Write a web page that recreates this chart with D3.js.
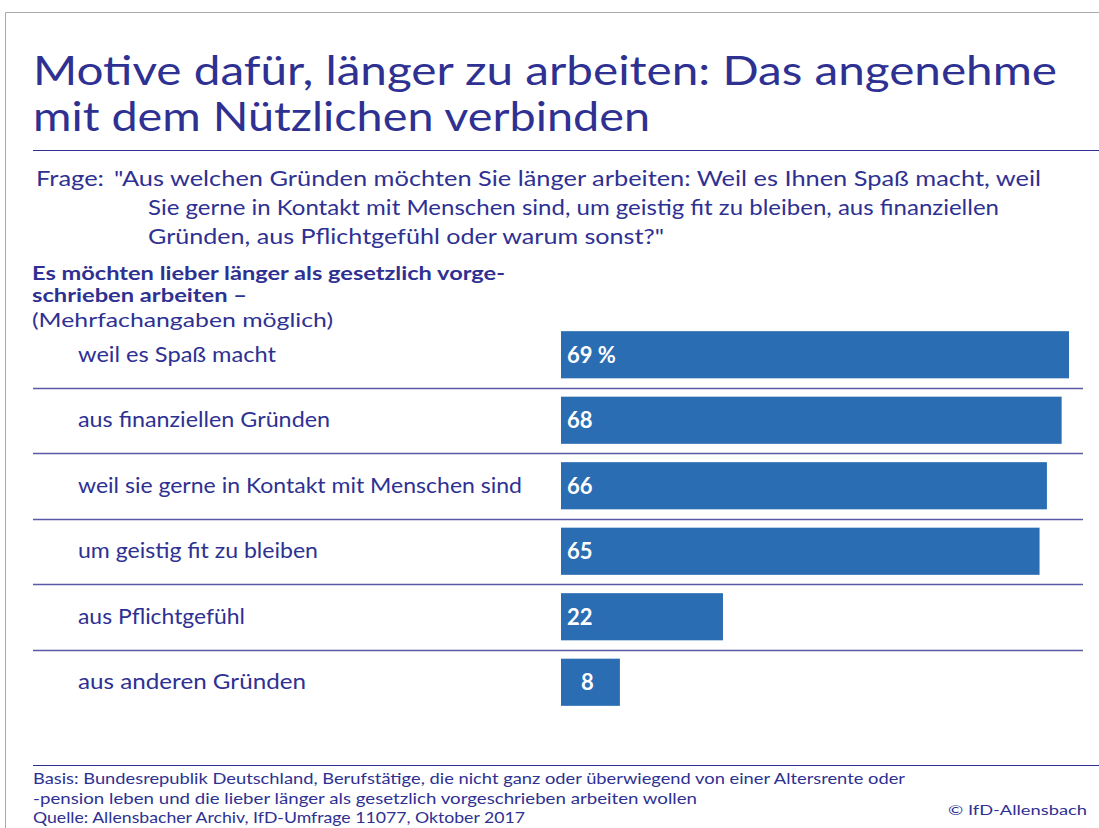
<!DOCTYPE html>
<html>
<head>
<meta charset="utf-8">
<script src="https://cdn.jsdelivr.net/npm/d3@7"></script>
<style>
  body { margin: 0; background: #fff; }
  svg text { font-family: Lato, "Noto Sans", sans-serif; }
</style>
</head>
<body>
<svg id="chart" width="1099" height="828"></svg>
<script>
var categories = ["weil es Spaß macht", "aus finanziellen Gründen", "weil sie gerne in Kontakt mit Menschen sind",
                  "um geistig fit zu bleiben", "aus Pflichtgefühl", "aus anderen Gründen"];
var values = [69, 68, 66, 65, 22, 8];
var valueLabels = ["69 %", "68", "66", "65", "22", "8"];

var titleLines = ["Motive dafür, länger zu arbeiten: Das angenehme", "mit dem Nützlichen verbinden"];
var questionLines = ["\"Aus welchen Gründen möchten Sie länger arbeiten: Weil es Ihnen Spaß macht, weil",
                     "Sie gerne in Kontakt mit Menschen sind, um geistig fit zu bleiben, aus finanziellen",
                     "Gründen, aus Pflichtgefühl oder warum sonst?\""];
var headLines = ["Es möchten lieber länger als gesetzlich vorge-", "schrieben arbeiten –"];
var noteLine = "(Mehrfachangaben möglich)";
var footLines = ["Basis: Bundesrepublik Deutschland, Berufstätige, die nicht ganz oder überwiegend von einer Altersrente oder",
                 "-pension leben und die lieber länger als gesetzlich vorgeschrieben arbeiten wollen",
                 "Quelle: Allensbacher Archiv, IfD-Umfrage 11077, Oktober 2017"];
var credit = "© IfD-Allensbach";

var NAVY = "#2e3192";
var BAR = "#2a6db3";

var svg = d3.select("#chart");

// fit text to a measured width from the reference
var fit = function(sel, w) {
  sel.attr("textLength", w).attr("lengthAdjust", "spacingAndGlyphs");
  return sel;
}

// frame
svg.append("path")
  .attr("d", "M5.5,828 V12.5 H1099")
  .attr("fill", "none").attr("stroke", "#aaa").attr("stroke-width", 1);

// title
var titleW = [1024, 617];
titleLines.forEach(function(t, i) {
  fit(svg.append("text").attr("x", 33).attr("y", 85 + i * 46)
    .attr("fill", NAVY).attr("font-size", 41).text(t), titleW[i]);
});
svg.append("line").attr("x1", 33).attr("x2", 1099).attr("y1", 150.5).attr("y2", 150.5)
  .attr("stroke", NAVY).attr("stroke-width", 1.2);

// question
fit(svg.append("text").attr("x", 36).attr("y", 186).attr("fill", NAVY).attr("font-size", 21).text("Frage:"), 68);
var qx = [114, 148, 148], qw = [927, 851, 516];
questionLines.forEach(function(t, i) {
  fit(svg.append("text").attr("x", qx[i]).attr("y", 186 + i * 29)
    .attr("fill", NAVY).attr("font-size", 21).text(t), qw[i]);
});

// header
var hw = [473, 215];
headLines.forEach(function(t, i) {
  fit(svg.append("text").attr("x", 32).attr("y", 280 + i * 22)
    .attr("fill", NAVY).attr("font-size", 18).attr("font-weight", "bold").text(t), hw[i]);
});
fit(svg.append("text").attr("x", 32).attr("y", 327).attr("fill", NAVY).attr("font-size", 19).text(noteLine), 301);

// bars
var x = d3.scaleLinear().domain([0, 69]).range([561, 1069]);
var y = d3.scaleBand().domain(categories).range([322, 715]).paddingInner(0.28).paddingOuter(0.14);
var step = y.step();

var rows = svg.append("g").attr("class", "rows");

rows.selectAll("line.sep")
  .data(categories.slice(1))
  .enter()
  .append("line")
  .attr("class", "sep")
  .attr("x1", 33).attr("x2", 1083)
  .attr("y1", function(d) { return Math.round(y(d) - (step - y.bandwidth()) / 2) + 0.5; })
  .attr("y2", function(d) { return Math.round(y(d) - (step - y.bandwidth()) / 2) + 0.5; })
  .attr("stroke", "#5a5aa8").attr("stroke-width", 1.3);

var catW = [198, 252, 444, 240, 167, 228];
rows.selectAll("text.cat")
  .data(categories)
  .enter()
  .append("text")
  .attr("class", "cat")
  .attr("x", 78)
  .attr("y", function(d) { return y(d) + y.bandwidth() / 2 + 7; })
  .attr("fill", NAVY).attr("font-size", 21)
  .attr("textLength", function(d, i) { return catW[i]; })
  .attr("lengthAdjust", "spacingAndGlyphs")
  .text(function(d) { return d; });

rows.selectAll("rect.bar")
  .data(values)
  .enter()
  .append("rect")
  .attr("class", "bar")
  .attr("x", x(0))
  .attr("y", function(d, i) { return y(categories[i]); })
  .attr("width", function(d) { return x(d) - x(0); })
  .attr("height", y.bandwidth())
  .attr("fill", BAR);

rows.selectAll("text.val")
  .data(values)
  .enter()
  .append("text")
  .attr("class", "val")
  .attr("x", function(d) { return d < 10 ? (x(0) + x(d)) / 2 - 3 : x(0) + 6; })
  .attr("text-anchor", function(d) { return d < 10 ? "middle" : "start"; })
  .attr("y", function(d, i) { return y(categories[i]) + y.bandwidth() / 2 + 8; })
  .attr("fill", "#fff").attr("font-size", 22).attr("font-weight", "bold")
  .text(function(d, i) { return valueLabels[i]; });

// footer
svg.append("line").attr("x1", 33).attr("x2", 1099).attr("y1", 765.5).attr("y2", 765.5)
  .attr("stroke", NAVY).attr("stroke-width", 1.2);
var fw = [872, 664, 492];
footLines.forEach(function(t, i) {
  fit(svg.append("text").attr("x", 33).attr("y", 784 + i * 19.5)
    .attr("fill", NAVY).attr("font-size", 16).text(t), fw[i]);
});
fit(svg.append("text").attr("x", 948).attr("y", 815).attr("fill", NAVY).attr("font-size", 14).text(credit), 139);
</script>
</body>
</html>
